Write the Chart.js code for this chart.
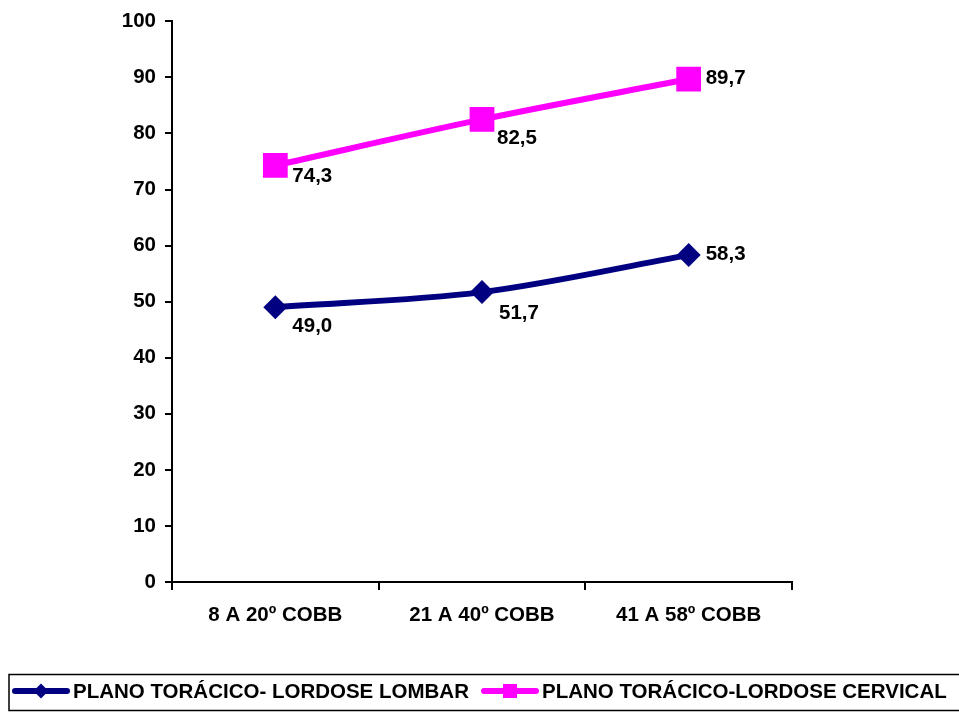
<!DOCTYPE html>
<html>
<head>
<meta charset="utf-8">
<script src="https://cdn.jsdelivr.net/npm/chart.js@4/dist/chart.umd.min.js"></script>
<style>
  html, body { margin: 0; padding: 0; background: #fff; }
  #wrap { width: 959px; height: 713px; position: relative; }
</style>
</head>
<body>
<div id="wrap"><canvas id="c" width="959" height="713"></canvas></div>
<script>
// Categories (Cobb angle ranges)
const categories = ['8 A 20º COBB', '21 A 40º COBB', '41 A 58º COBB'];

// Series values
const lombarValues = [49.0, 51.7, 58.3];
const cervicalValues = [74.3, 82.5, 89.7];

// Series names
const lombarName = 'PLANO TORÁCICO- LORDOSE LOMBAR';
const cervicalName = 'PLANO TORÁCICO-LORDOSE CERVICAL';

// Y axis ticks
const yTicks = [0, 10, 20, 30, 40, 50, 60, 70, 80, 90, 100];

const NAVY = '#000080';
const PINK = '#FF00FF';
const FONT = '"Liberation Sans", Arial, sans-serif';
const FONT_SIZE = 20.5;

// Offsets of each value label from its marker (px)
const lombarLabelOffsets = [[17, 19], [17, 21], [17, -1]];
const cervicalLabelOffsets = [[17, 11], [15, 19], [17, -1]];

function fmt(v) { return v.toFixed(1).replace('.', ','); }

const valueLabels = {
  id: 'valueLabels',
  afterDatasetsDraw(chart) {
    const ctx = chart.ctx;
    ctx.save();
    ctx.font = 'bold ' + FONT_SIZE + 'px ' + FONT;
    ctx.fillStyle = '#000';
    ctx.textAlign = 'left';
    ctx.textBaseline = 'middle';
    chart.data.datasets.forEach((ds, i) => {
      const meta = chart.getDatasetMeta(i);
      meta.data.forEach((pt, j) => {
        const off = ds.labelOffsets[j];
        ctx.fillText(fmt(ds.data[j]), pt.x + off[0], pt.y + off[1]);
      });
    });
    ctx.restore();
  }
};

function drawMarker(ctx, style, x, y, r, color) {
  ctx.fillStyle = color;
  ctx.beginPath();
  if (style === 'rectRot') {
    ctx.moveTo(x, y - r); ctx.lineTo(x + r, y); ctx.lineTo(x, y + r); ctx.lineTo(x - r, y);
    ctx.closePath();
  } else {
    ctx.rect(x - r, y - r, 2 * r, 2 * r);
  }
  ctx.fill();
}

// Boxed legend below the chart, with line-and-marker samples
const boxLegend = {
  id: 'boxLegend',
  afterDraw(chart) {
    const ctx = chart.ctx;
    ctx.save();
    ctx.strokeStyle = '#000';
    ctx.lineWidth = 1.5;
    ctx.strokeRect(9, 674.5, 960, 36);
    const items = [
      { x0: 12, x1: 70, style: 'rectRot', r: 7.5, ds: chart.data.datasets[0] },
      { x0: 481, x1: 539, style: 'rect', r: 7, ds: chart.data.datasets[1] }
    ];
    const y = 691;
    ctx.font = 'bold ' + FONT_SIZE + 'px ' + FONT;
    ctx.textBaseline = 'middle';
    ctx.textAlign = 'left';
    items.forEach(it => {
      ctx.strokeStyle = it.ds.borderColor;
      ctx.lineWidth = 6;
      ctx.lineCap = 'round';
      ctx.beginPath();
      ctx.moveTo(it.x0 + 3, y);
      ctx.lineTo(it.x1 - 3, y);
      ctx.stroke();
      drawMarker(ctx, it.style, (it.x0 + it.x1) / 2, y, it.r, it.ds.borderColor);
      ctx.fillStyle = '#000';
      ctx.fillText(it.ds.label, it.x1 + 3, y + 1.5);
    });
    ctx.restore();
  }
};

new Chart(document.getElementById('c'), {
  type: 'line',
  data: {
    labels: categories,
    datasets: [
      {
        label: lombarName,
        data: lombarValues,
        borderColor: NAVY,
        backgroundColor: NAVY,
        borderWidth: 6,
        tension: 0.33,
        pointStyle: 'rectRot',
        pointRadius: 12,
        pointBorderWidth: 0,
        pointBackgroundColor: NAVY,
        labelOffsets: lombarLabelOffsets
      },
      {
        label: cervicalName,
        data: cervicalValues,
        borderColor: PINK,
        backgroundColor: PINK,
        borderWidth: 6,
        tension: 0.33,
        pointStyle: 'rect',
        pointRadius: 17.5,
        pointBorderWidth: 0,
        pointBackgroundColor: PINK,
        labelOffsets: cervicalLabelOffsets
      }
    ]
  },
  options: {
    responsive: false,
    animation: false,
    devicePixelRatio: 1,
    layout: { padding: { top: 18, left: 0, right: 167, bottom: 0 } },
    plugins: {
      legend: { display: false },
      tooltip: { enabled: false }
    },
    scales: {
      x: {
        offset: true,
        grid: { display: true, drawOnChartArea: false, drawTicks: true, tickLength: 8, offset: true, color: '#000', lineWidth: 2 },
        border: { display: true, color: '#000', width: 2 },
        ticks: { color: '#000', font: { family: FONT, size: FONT_SIZE, weight: 'bold' }, padding: 13, maxRotation: 0 },
        afterFit(scale) { scale.height = 131; }
      },
      y: {
        min: 0,
        max: 100,
        afterBuildTicks(scale) { scale.ticks = yTicks.map(v => ({ value: v })); },
        grid: { display: true, drawOnChartArea: false, drawTicks: true, tickLength: 7, color: '#000', lineWidth: 2 },
        border: { display: true, color: '#000', width: 2 },
        ticks: { color: '#000', font: { family: FONT, size: FONT_SIZE, weight: 'bold' }, padding: 9 },
        afterFit(scale) { scale.width = 172; }
      }
    }
  },
  plugins: [valueLabels, boxLegend]
});
</script>
</body>
</html>
